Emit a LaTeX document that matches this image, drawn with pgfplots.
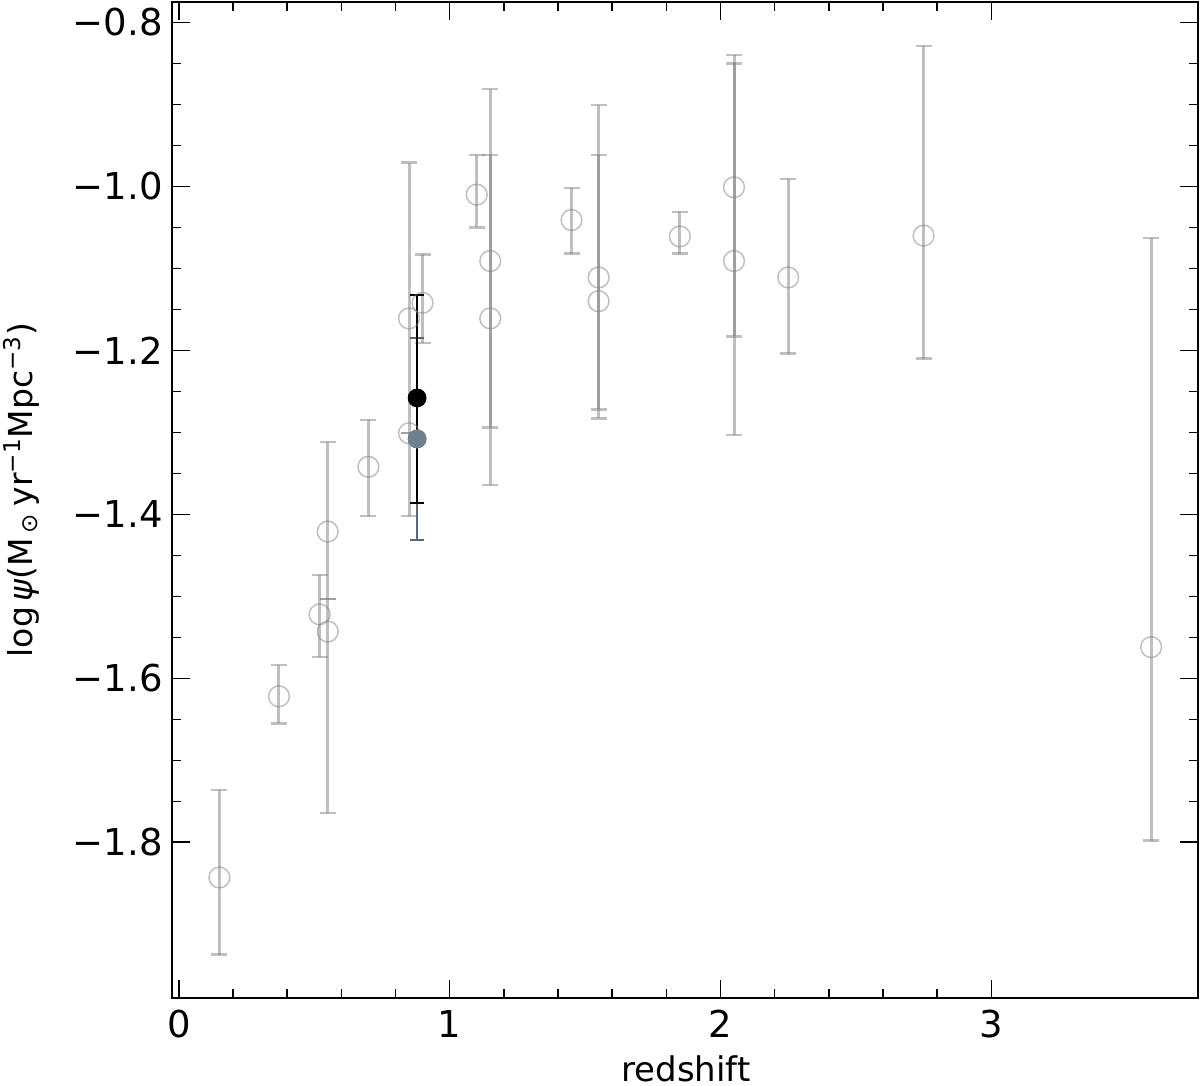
\documentclass[border=0pt]{standalone}
\usepackage{pgfplots}
\pgfplotsset{compat=1.18}
\usepackage{pgfplotstable}
\usepackage{fontspec}
\setmainfont{DejaVu Sans}
\definecolor{slate}{RGB}{112,128,144}
\definecolor{slatedark}{RGB}{88,102,118}

\pgfplotstableread{
x y ep em
0.15 -1.843 0.107 0.094
0.37 -1.622 0.038 0.033
0.52 -1.522 0.048 0.052
0.55 -1.421 0.109 0.082
0.55 -1.543 0.040 0.221
0.70 -1.342 0.057 0.060
0.85 -1.161 0.190 0.140
0.85 -1.301 0.000 0.101
0.90 -1.142 0.059 0.049
1.10 -1.010 0.048 0.040
1.15 -1.091 0.210 0.203
1.15 -1.161 0.199 0.203
1.45 -1.041 0.039 0.041
1.55 -1.111 0.210 0.161
1.55 -1.140 0.178 0.143
1.85 -1.061 0.030 0.021
2.05 -1.001 0.161 0.302
2.05 -1.091 0.241 0.092
2.25 -1.111 0.120 0.093
2.75 -1.060 0.231 0.150
3.59 -1.562 0.499 0.236
}\greydata

\pgfplotstableread{
x y ep em
0.88 -1.258 0.126 0.128
}\blackdata

\pgfplotstableread{
x y ep em
0.88 -1.308 0.123 0.123
}\slatedata

\begin{document}
\begin{tikzpicture}
\begin{axis}[
  scale only axis, width=513bp, height=498bp,
  xmin=-0.025, xmax=3.763, ymin=-1.990, ymax=-0.775,
  xtick={0,1,2,3}, xticklabels={0,1,2,3},
  ytick={-1.8,-1.6,-1.4,-1.2,-1.0,-0.8},
  yticklabels={−1.8,−1.6,−1.4,−1.2,−1.0,−0.8},
  minor x tick num=4, minor y tick num=3,
  tick align=inside,
  major tick length=9bp, minor tick length=4.5bp,
  every tick/.append style={black, line width=0.75bp},
  axis line style={line width=1bp},
  ticklabel style={font=\fontsize{18.5bp}{22bp}\selectfont, inner sep=0pt},
  xticklabel style={yshift=-6bp},
  yticklabel style={xshift=-4.5bp},
  xlabel={redshift},
  ylabel={log\,{\itshape ψ}(M\kern0.15em\textsubscript{⊙}\kern0.2em yr\textsuperscript{−1}Mpc\textsuperscript{−3})},
  xlabel style={font=\fontsize{17bp}{20bp}\selectfont, at={(axis description cs:0.501,-0.0843)}, anchor=base, inner sep=0pt},
  ylabel style={font=\fontsize{16.5bp}{19bp}\selectfont, at={(axis description cs:-0.147,0.51)}, rotate=0, anchor=center, inner sep=0pt},
  clip=false,
]
\addplot[only marks, mark=o, mark size=5.2bp,
  mark options={draw=black!50, line width=0.75bp, draw opacity=0.5},
  error bars/.cd, y dir=both, y explicit,
  error bar style={draw=black!50, line width=1.5bp, draw opacity=0.5},
  error mark options={rotate=90, mark size=4bp, draw=black!50, line width=1.2bp, draw opacity=0.5}]
  table[x=x, y=y, y error plus=ep, y error minus=em] {\greydata};

\addplot[only marks, mark=*, mark size=4.5bp, mark options={fill=slate, draw=slate},
  error bars/.cd, y dir=both, y explicit,
  error bar style={draw=slatedark, line width=1.2bp},
  error mark options={rotate=90, mark size=3.5bp, draw=slatedark, line width=1bp}]
  table[x=x, y=y, y error plus=ep, y error minus=em] {\slatedata};

\addplot[only marks, mark=*, mark size=4.5bp, mark options={fill=black, draw=black},
  error bars/.cd, y dir=both, y explicit,
  error bar style={draw=black, line width=1bp},
  error mark options={rotate=90, mark size=3.5bp, draw=black, line width=1bp}]
  table[x=x, y=y, y error plus=ep, y error minus=em] {\blackdata};

\addplot[only marks, mark=*, mark size=4.5bp, mark options={fill=slate, draw=slate}]
  table[x=x, y=y] {\slatedata};
\end{axis}
\pgfresetboundingbox
\path[use as bounding box] ([shift={(-86bp,-44bp)}]current axis.south west) rectangle ([shift={(1bp,1bp)}]current axis.north east);
\end{tikzpicture}
\end{document}
